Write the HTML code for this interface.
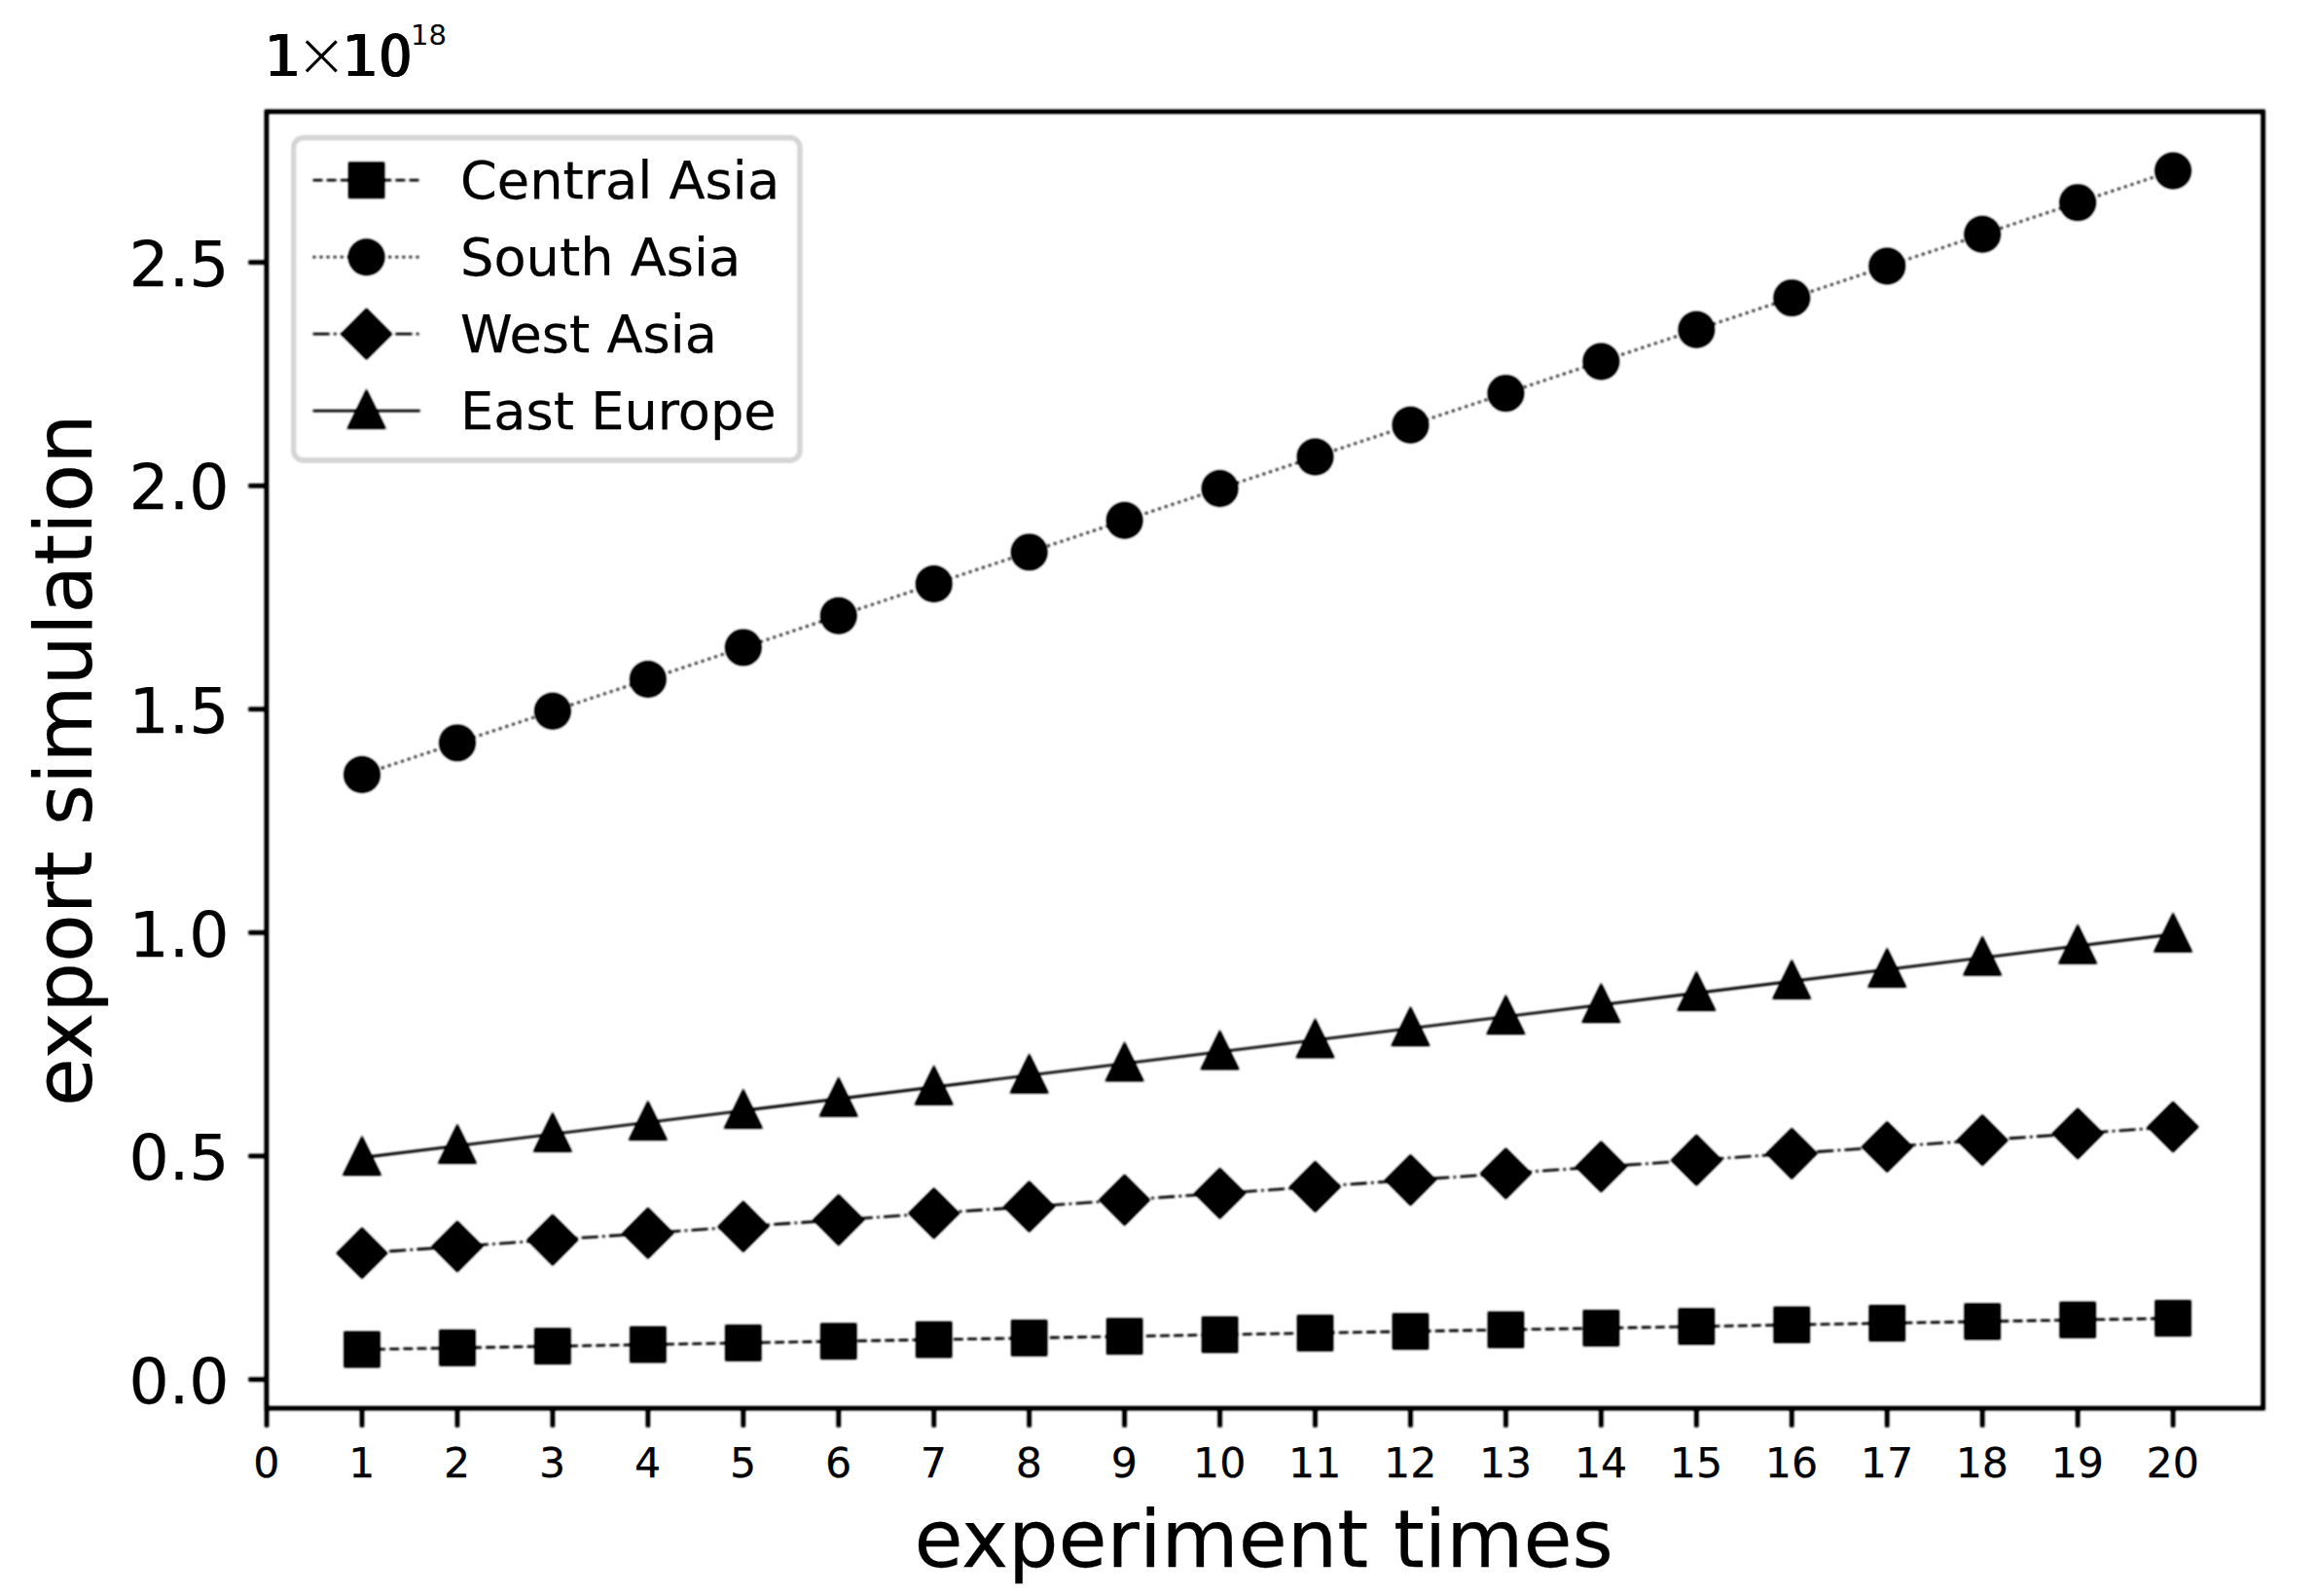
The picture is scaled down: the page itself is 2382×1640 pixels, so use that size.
<!DOCTYPE html>
<html lang="en"><head><meta charset="utf-8"><title>export simulation</title>
<style>
html,body{margin:0;padding:0;background:#fff;}
body{width:2382px;height:1640px;overflow:hidden;}
svg{display:block;}
text{font-family:"DejaVu Sans","Liberation Sans",sans-serif;fill:#000;stroke:#000;stroke-width:0.25px;}
#offset span{position:absolute;line-height:1;white-space:nowrap;color:#000;font-family:"DejaVu Sans","Liberation Sans",sans-serif;}
#offset span.b{font-family:"DejaVu Sans Condensed","DejaVu Sans","Liberation Sans",sans-serif;font-size:59.0px;}
#offset span.r{font-family:"DejaVu Sans","Liberation Sans",sans-serif;}
#offset span.x{font-weight:200;}
</style></head><body>
<svg width="2382" height="1640" viewBox="0 0 2382 1640">
<defs><filter id="soft" color-interpolation-filters="sRGB" x="0" y="0" width="2382" height="1640" filterUnits="userSpaceOnUse"><feGaussianBlur stdDeviation="1.0"/><feComponentTransfer><feFuncA type="linear" slope="1.22" intercept="0"/></feComponentTransfer></filter></defs>
<rect x="0" y="0" width="2382" height="1640" fill="#fff"/>
<g filter="url(#soft)">

<g id="series" fill="#000" stroke="none">
<line x1="372.00" y1="1386.70" x2="2233.05" y2="1354.60" stroke="#000" stroke-width="2.3" stroke-dasharray="9.87 4.27"/>
<rect x="353.38" y="1368.09" width="37.23" height="37.23"/>
<rect x="451.34" y="1366.40" width="37.23" height="37.23"/>
<rect x="549.29" y="1364.71" width="37.23" height="37.23"/>
<rect x="647.24" y="1363.02" width="37.23" height="37.23"/>
<rect x="745.18" y="1361.33" width="37.23" height="37.23"/>
<rect x="843.13" y="1359.64" width="37.23" height="37.23"/>
<rect x="941.09" y="1357.95" width="37.23" height="37.23"/>
<rect x="1039.04" y="1356.26" width="37.23" height="37.23"/>
<rect x="1136.99" y="1354.57" width="37.23" height="37.23"/>
<rect x="1234.93" y="1352.88" width="37.23" height="37.23"/>
<rect x="1332.88" y="1351.19" width="37.23" height="37.23"/>
<rect x="1430.84" y="1349.50" width="37.23" height="37.23"/>
<rect x="1528.79" y="1347.81" width="37.23" height="37.23"/>
<rect x="1626.73" y="1346.12" width="37.23" height="37.23"/>
<rect x="1724.68" y="1344.43" width="37.23" height="37.23"/>
<rect x="1822.63" y="1342.74" width="37.23" height="37.23"/>
<rect x="1920.59" y="1341.05" width="37.23" height="37.23"/>
<rect x="2018.54" y="1339.36" width="37.23" height="37.23"/>
<rect x="2116.49" y="1337.67" width="37.23" height="37.23"/>
<rect x="2214.44" y="1335.98" width="37.23" height="37.23"/>
<line x1="372.00" y1="796.00" x2="2233.05" y2="175.50" stroke="#000" stroke-width="2.3" stroke-dasharray="2.67 4.4"/>
<circle cx="372.00" cy="796.00" r="18.71"/>
<circle cx="469.95" cy="763.34" r="18.71"/>
<circle cx="567.90" cy="730.68" r="18.71"/>
<circle cx="665.85" cy="698.03" r="18.71"/>
<circle cx="763.80" cy="665.37" r="18.71"/>
<circle cx="861.75" cy="632.71" r="18.71"/>
<circle cx="959.70" cy="600.05" r="18.71"/>
<circle cx="1057.65" cy="567.39" r="18.71"/>
<circle cx="1155.60" cy="534.74" r="18.71"/>
<circle cx="1253.55" cy="502.08" r="18.71"/>
<circle cx="1351.50" cy="469.42" r="18.71"/>
<circle cx="1449.45" cy="436.76" r="18.71"/>
<circle cx="1547.40" cy="404.11" r="18.71"/>
<circle cx="1645.35" cy="371.45" r="18.71"/>
<circle cx="1743.30" cy="338.79" r="18.71"/>
<circle cx="1841.25" cy="306.13" r="18.71"/>
<circle cx="1939.20" cy="273.47" r="18.71"/>
<circle cx="2037.15" cy="240.82" r="18.71"/>
<circle cx="2135.10" cy="208.16" r="18.71"/>
<circle cx="2233.05" cy="175.50" r="18.71"/>
<line x1="372.00" y1="1287.70" x2="2233.05" y2="1158.00" stroke="#000" stroke-width="2.3" stroke-dasharray="17.07 4.27 2.67 4.27"/>
<path d="M372.00 1261.10L398.60 1287.70L372.00 1314.30L345.40 1287.70Z"/>
<path d="M469.95 1254.27L496.55 1280.87L469.95 1307.47L443.35 1280.87Z"/>
<path d="M567.90 1247.45L594.50 1274.05L567.90 1300.65L541.30 1274.05Z"/>
<path d="M665.85 1240.62L692.45 1267.22L665.85 1293.82L639.25 1267.22Z"/>
<path d="M763.80 1233.79L790.40 1260.39L763.80 1286.99L737.20 1260.39Z"/>
<path d="M861.75 1226.97L888.35 1253.57L861.75 1280.17L835.15 1253.57Z"/>
<path d="M959.70 1220.14L986.30 1246.74L959.70 1273.34L933.10 1246.74Z"/>
<path d="M1057.65 1213.32L1084.25 1239.92L1057.65 1266.52L1031.05 1239.92Z"/>
<path d="M1155.60 1206.49L1182.20 1233.09L1155.60 1259.69L1129.00 1233.09Z"/>
<path d="M1253.55 1199.66L1280.15 1226.26L1253.55 1252.86L1226.95 1226.26Z"/>
<path d="M1351.50 1192.84L1378.10 1219.44L1351.50 1246.04L1324.90 1219.44Z"/>
<path d="M1449.45 1186.01L1476.05 1212.61L1449.45 1239.21L1422.85 1212.61Z"/>
<path d="M1547.40 1179.18L1574.00 1205.78L1547.40 1232.38L1520.80 1205.78Z"/>
<path d="M1645.35 1172.36L1671.95 1198.96L1645.35 1225.56L1618.75 1198.96Z"/>
<path d="M1743.30 1165.53L1769.90 1192.13L1743.30 1218.73L1716.70 1192.13Z"/>
<path d="M1841.25 1158.71L1867.85 1185.31L1841.25 1211.91L1814.65 1185.31Z"/>
<path d="M1939.20 1151.88L1965.80 1178.48L1939.20 1205.08L1912.60 1178.48Z"/>
<path d="M2037.15 1145.05L2063.75 1171.65L2037.15 1198.25L2010.55 1171.65Z"/>
<path d="M2135.10 1138.23L2161.70 1164.83L2135.10 1191.43L2108.50 1164.83Z"/>
<path d="M2233.05 1131.40L2259.65 1158.00L2233.05 1184.60L2206.45 1158.00Z"/>
<line x1="372.00" y1="1189.50" x2="2233.05" y2="960.00" stroke="#000" stroke-width="2.3"/>
<path d="M372.00 1166.70L392.20 1207.95L351.80 1207.95Z"/>
<path d="M469.95 1154.62L490.15 1195.87L449.75 1195.87Z"/>
<path d="M567.90 1142.54L588.10 1183.79L547.70 1183.79Z"/>
<path d="M665.85 1130.46L686.05 1171.71L645.65 1171.71Z"/>
<path d="M763.80 1118.38L784.00 1159.63L743.60 1159.63Z"/>
<path d="M861.75 1106.31L881.95 1147.56L841.55 1147.56Z"/>
<path d="M959.70 1094.23L979.90 1135.48L939.50 1135.48Z"/>
<path d="M1057.65 1082.15L1077.85 1123.40L1037.45 1123.40Z"/>
<path d="M1155.60 1070.07L1175.80 1111.32L1135.40 1111.32Z"/>
<path d="M1253.55 1057.99L1273.75 1099.24L1233.35 1099.24Z"/>
<path d="M1351.50 1045.91L1371.70 1087.16L1331.30 1087.16Z"/>
<path d="M1449.45 1033.83L1469.65 1075.08L1429.25 1075.08Z"/>
<path d="M1547.40 1021.75L1567.60 1063.00L1527.20 1063.00Z"/>
<path d="M1645.35 1009.67L1665.55 1050.92L1625.15 1050.92Z"/>
<path d="M1743.30 997.59L1763.50 1038.84L1723.10 1038.84Z"/>
<path d="M1841.25 985.52L1861.45 1026.77L1821.05 1026.77Z"/>
<path d="M1939.20 973.44L1959.40 1014.69L1919.00 1014.69Z"/>
<path d="M2037.15 961.36L2057.35 1002.61L2016.95 1002.61Z"/>
<path d="M2135.10 949.28L2155.30 990.53L2114.90 990.53Z"/>
<path d="M2233.05 937.20L2253.25 978.45L2212.85 978.45Z"/>
</g>
<rect x="273.9" y="114.7" width="2051.70" height="1332.40" fill="none" stroke="#000" stroke-width="4.3"/>
<g stroke="#000" stroke-width="4.3">
<line x1="274.05" y1="1447.1" x2="274.05" y2="1466.5"/>
<line x1="372.00" y1="1447.1" x2="372.00" y2="1466.5"/>
<line x1="469.95" y1="1447.1" x2="469.95" y2="1466.5"/>
<line x1="567.90" y1="1447.1" x2="567.90" y2="1466.5"/>
<line x1="665.85" y1="1447.1" x2="665.85" y2="1466.5"/>
<line x1="763.80" y1="1447.1" x2="763.80" y2="1466.5"/>
<line x1="861.75" y1="1447.1" x2="861.75" y2="1466.5"/>
<line x1="959.70" y1="1447.1" x2="959.70" y2="1466.5"/>
<line x1="1057.65" y1="1447.1" x2="1057.65" y2="1466.5"/>
<line x1="1155.60" y1="1447.1" x2="1155.60" y2="1466.5"/>
<line x1="1253.55" y1="1447.1" x2="1253.55" y2="1466.5"/>
<line x1="1351.50" y1="1447.1" x2="1351.50" y2="1466.5"/>
<line x1="1449.45" y1="1447.1" x2="1449.45" y2="1466.5"/>
<line x1="1547.40" y1="1447.1" x2="1547.40" y2="1466.5"/>
<line x1="1645.35" y1="1447.1" x2="1645.35" y2="1466.5"/>
<line x1="1743.30" y1="1447.1" x2="1743.30" y2="1466.5"/>
<line x1="1841.25" y1="1447.1" x2="1841.25" y2="1466.5"/>
<line x1="1939.20" y1="1447.1" x2="1939.20" y2="1466.5"/>
<line x1="2037.15" y1="1447.1" x2="2037.15" y2="1466.5"/>
<line x1="2135.10" y1="1447.1" x2="2135.10" y2="1466.5"/>
<line x1="2233.05" y1="1447.1" x2="2233.05" y2="1466.5"/>
<line x1="273.9" y1="1417.50" x2="255.39999999999998" y2="1417.50"/>
<line x1="273.9" y1="1187.92" x2="255.39999999999998" y2="1187.92"/>
<line x1="273.9" y1="958.34" x2="255.39999999999998" y2="958.34"/>
<line x1="273.9" y1="728.76" x2="255.39999999999998" y2="728.76"/>
<line x1="273.9" y1="499.18" x2="255.39999999999998" y2="499.18"/>
<line x1="273.9" y1="269.60" x2="255.39999999999998" y2="269.60"/>
</g>
<rect x="301.7" y="141.5" width="520.30" height="331.50" rx="10" ry="10" fill="none" stroke="#d6d6d6" stroke-width="4.8"/>
<g id="legend" fill="#000">
<line x1="321.6" y1="185.20" x2="431.7" y2="185.20" stroke="#000" stroke-width="2.3" stroke-dasharray="9.87 4.27"/>
<rect x="357.99" y="166.58" width="37.23" height="37.23"/>
<line x1="321.6" y1="264.20" x2="431.7" y2="264.20" stroke="#000" stroke-width="2.3" stroke-dasharray="2.67 4.4"/>
<circle cx="376.60" cy="264.20" r="18.71"/>
<line x1="321.6" y1="343.20" x2="431.7" y2="343.20" stroke="#000" stroke-width="2.3" stroke-dasharray="17.07 4.27 2.67 4.27"/>
<path d="M376.60 316.60L403.20 343.20L376.60 369.80L350.00 343.20Z"/>
<line x1="321.6" y1="422.20" x2="431.7" y2="422.20" stroke="#000" stroke-width="2.3"/>
<path d="M376.60 399.40L396.80 440.65L356.40 440.65Z"/>
</g>
</g>
<g id="labels">
<g font-size="42.67" text-anchor="middle">
<text x="273.75" y="1518.0">0</text>
<text x="371.70" y="1518.0">1</text>
<text x="469.65" y="1518.0">2</text>
<text x="567.60" y="1518.0">3</text>
<text x="665.55" y="1518.0">4</text>
<text x="763.50" y="1518.0">5</text>
<text x="861.45" y="1518.0">6</text>
<text x="959.40" y="1518.0">7</text>
<text x="1057.35" y="1518.0">8</text>
<text x="1155.30" y="1518.0">9</text>
<text x="1253.25" y="1518.0">10</text>
<text x="1351.20" y="1518.0">11</text>
<text x="1449.15" y="1518.0">12</text>
<text x="1547.10" y="1518.0">13</text>
<text x="1645.05" y="1518.0">14</text>
<text x="1743.00" y="1518.0">15</text>
<text x="1840.95" y="1518.0">16</text>
<text x="1938.90" y="1518.0">17</text>
<text x="2036.85" y="1518.0">18</text>
<text x="2134.80" y="1518.0">19</text>
<text x="2232.75" y="1518.0">20</text>
</g>
<g font-size="64.8" text-anchor="end">
<text x="235.5" y="1441.70">0.0</text>
<text x="235.5" y="1212.12">0.5</text>
<text x="235.5" y="982.54">1.0</text>
<text x="235.5" y="752.96">1.5</text>
<text x="235.5" y="523.38">2.0</text>
<text x="235.5" y="293.80">2.5</text>
</g>
<text x="1298.6" y="1609.8" font-size="81.25" text-anchor="middle">experiment times</text>
<text transform="translate(93.8 781.2) rotate(-90)" font-size="81.15" text-anchor="middle">export simulation</text>
<text x="473.0" y="204.00" font-size="54.2">Central Asia</text>
<text x="473.0" y="283.00" font-size="54.2">South Asia</text>
<text x="473.0" y="362.00" font-size="54.2">West Asia</text>
<text x="473.0" y="441.00" font-size="54.2">East Europe</text>
</g>
</svg>
<div id="offset">
<span class="b r" style="left:271.8px;top:27.9px;text-shadow:-1.0px 0 0 #000,-0.5px 0 0 #000,0.5px 0 0 #000,1.0px 0 0 #000">1</span>
<span class="x" style="left:303.5px;top:24.4px;font-size:64px">×</span>
<span class="b r" style="left:351.5px;top:27.9px;text-shadow:-1.0px 0 0 #000,-0.5px 0 0 #000,0.5px 0 0 #000,1.0px 0 0 #000">1</span>
<span class="b" style="left:389.5px;top:27.9px;text-shadow:-1.0px 0 0 #000,-0.5px 0 0 #000,0.5px 0 0 #000,1.0px 0 0 #000">0</span>
<span class="s" style="left:422.0px;top:22.4px;font-size:29px">18</span>
</div>
</body></html>
